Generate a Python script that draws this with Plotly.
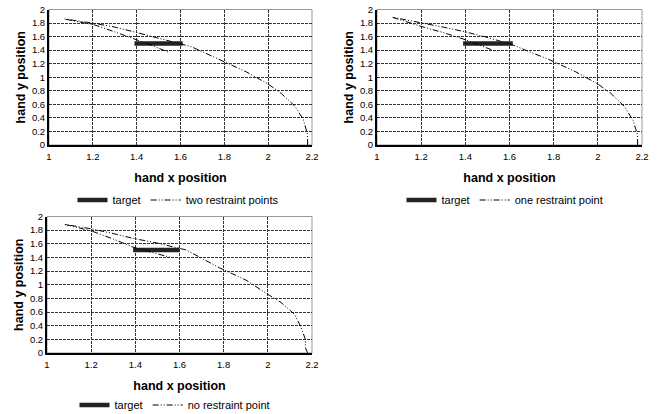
import plotly.graph_objects as go

# ---------------- data ----------------
x_ticks = [1, 1.2, 1.4, 1.6, 1.8, 2, 2.2]
y_ticks = [0, 0.2, 0.4, 0.6, 0.8, 1, 1.2, 1.4, 1.6, 1.8, 2]

target1_x = [1.39, 1.61]
target1_y = [1.50, 1.50]
target2_x = [1.39, 1.615]
target2_y = [1.50, 1.50]
target3_x = [1.39, 1.60]
target3_y = [1.51, 1.51]

traj1_x = [2.18, 2.18, 2.16, 2.12, 2.06, 2.0, 1.9, 1.78, 1.70, 1.65, 1.58, 1.49, 1.40, 1.30, 1.20, 1.07,
           1.21, 1.30, 1.39, 1.47, 1.545]
traj1_y = [0.0, 0.15, 0.38, 0.58, 0.76, 0.9, 1.08, 1.26, 1.37, 1.45, 1.51, 1.58, 1.66, 1.74, 1.80, 1.86,
           1.77, 1.67, 1.57, 1.47, 1.37]
traj2_x = [2.18, 2.18, 2.16, 2.12, 2.06, 2.0, 1.9, 1.78, 1.68, 1.62, 1.51, 1.40, 1.30, 1.20, 1.07,
           1.20, 1.30, 1.39, 1.47, 1.54]
traj2_y = [0.0, 0.15, 0.36, 0.57, 0.76, 0.9, 1.08, 1.26, 1.39, 1.47, 1.58, 1.67, 1.74, 1.80, 1.885,
           1.75, 1.66, 1.565, 1.47, 1.38]
traj3_x = [2.18, 2.17, 2.17, 2.15, 2.12, 2.06, 2.0, 1.9, 1.78, 1.69, 1.63, 1.50, 1.39, 1.30, 1.20, 1.077,
           1.20, 1.30, 1.39, 1.48, 1.56]
traj3_y = [0.0, 0.08, 0.2, 0.38, 0.57, 0.74, 0.86, 1.07, 1.25, 1.41, 1.51, 1.61, 1.68, 1.75, 1.82, 1.886,
           1.79, 1.67, 1.55, 1.47, 1.40]

names = ["two restraint points", "one restraint point", "no restraint point"]

# ---------------- figure ----------------
W, H = 659, 414
fig = go.Figure()

def px_dom_x(a, b):
    return [a / W, b / W]

def px_dom_y(top, bottom):
    return [1 - bottom / H, 1 - top / H]

panels = [
    dict(xd=px_dom_x(49, 312), yd=px_dom_y(9.5, 145), leg_y=200, tx=target1_x, ty=target1_y,
         jx=traj1_x, jy=traj1_y, name=names[0], leg_x=178),
    dict(xd=px_dom_x(377, 642), yd=px_dom_y(9.5, 145), leg_y=200, tx=target2_x, ty=target2_y,
         jx=traj2_x, jy=traj2_y, name=names[1], leg_x=505),
    dict(xd=px_dom_x(47, 312), yd=px_dom_y(216.5, 353), leg_y=405, tx=target3_x, ty=target3_y,
         jx=traj3_x, jy=traj3_y, name=names[2], leg_x=175),
]

dash_style = "6px,2px,1px,2px,1px,2px"
font_family = "Arial, Liberation Sans, sans-serif"

for i, p in enumerate(panels):
    n = i + 1
    xa = "x" if n == 1 else f"x{n}"
    ya = "y" if n == 1 else f"y{n}"
    leg = "legend" if n == 1 else f"legend{n}"
    fig.add_trace(go.Scatter(x=p["tx"], y=p["ty"], mode="lines", name="target",
                             line=dict(color="#222222", width=4.5), xaxis=xa, yaxis=ya, legend=leg))
    fig.add_trace(go.Scatter(x=p["jx"], y=p["jy"], mode="lines", name=p["name"],
                             line=dict(color="black", width=1, dash=dash_style),
                             xaxis=xa, yaxis=ya, legend=leg))
    axis_common = dict(showgrid=True, gridcolor="#333333", griddash="3px,1px", gridwidth=1,
                       showline=True, linecolor="black", linewidth=2, mirror=False, automargin=False,
                       zeroline=False, ticks="", tickfont=dict(size=9.5, color="black", family=font_family))
    xkey = "xaxis" if n == 1 else f"xaxis{n}"
    ykey = "yaxis" if n == 1 else f"yaxis{n}"
    fig.update_layout({
        xkey: dict(domain=p["xd"], range=[1, 2.2], tickvals=x_ticks, anchor=ya,
                   title=dict(text="<b>hand x position</b>", font=dict(size=12.5, family=font_family, color="black"),
                              standoff=12),
                   ticklabelstandoff=2, **axis_common),
        ykey: dict(domain=p["yd"], range=[0, 2], tickvals=y_ticks, anchor=xa,
                   title=dict(text="<b>hand y position</b>", font=dict(size=12.5, family=font_family, color="black"),
                              standoff=4),
                   **axis_common),
        leg: dict(orientation="h", x=p["leg_x"] / W, xanchor="center", y=1 - p["leg_y"] / H, yanchor="middle",
                  font=dict(size=11, family=font_family, color="black"), bgcolor="rgba(0,0,0,0)",
                  itemwidth=30, tracegroupgap=0),
    })
    fig.add_shape(type="rect", xref=f"{xa} domain", yref=f"{ya} domain", x0=0, x1=1, y0=0, y1=1,
                  line=dict(color="#999999", width=1), layer="below")

fig.update_layout(width=W, height=H, margin=dict(l=0, r=0, t=0, b=0, autoexpand=False),
                  plot_bgcolor="white", paper_bgcolor="white", showlegend=True)

fig.write_html("out.html", config={"displayModeBar": False},
               post_script="document.body.style.margin='0';")
